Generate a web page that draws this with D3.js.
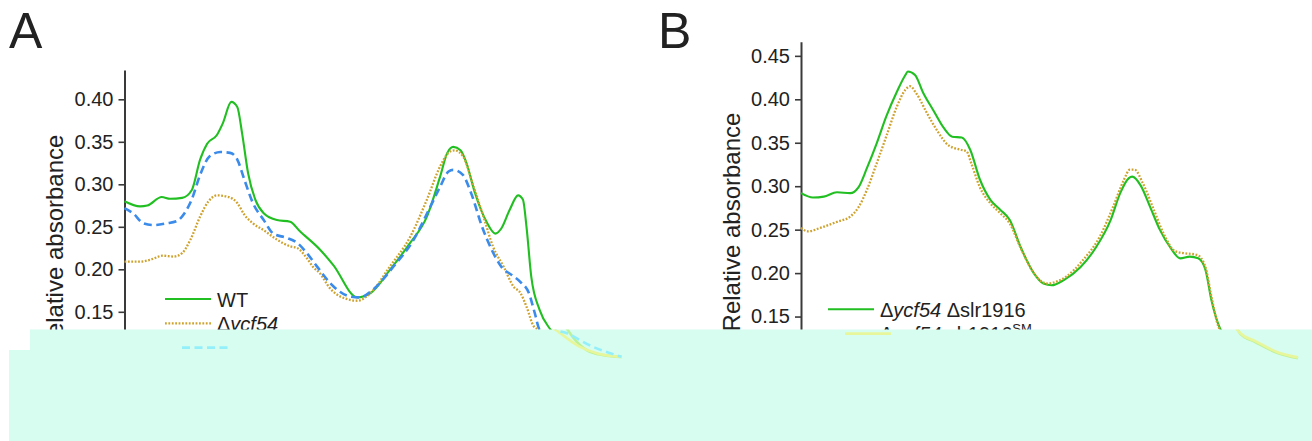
<!DOCTYPE html>
<html>
<head>
<meta charset="utf-8">
<script src="https://cdn.jsdelivr.net/npm/d3@7"></script>
<style>
  html, body { margin: 0; padding: 0; background: #fff; }
  svg { display: block; }
  text { font-family: "Liberation Sans", Arial, sans-serif; fill: #222; }
</style>
</head>
<body>
<svg id="chart" width="1312" height="441"></svg>
<script>
// ---- Panel A: absorbance spectra (wavelength in nm, relative absorbance)
const nmA_wt = [350,363,369,381,388,398,406,413,419,427,432,439,444,448,453,459,466,477,488,496,513,524,544,555,571,588,602,613,619,624,630,635,642,652,659,664,671,678,682,685,689,696,705,709,721,735,750];
const absA_wt = [0.280,0.274,0.275,0.285,0.283,0.284,0.293,0.329,0.348,0.358,0.372,0.397,0.391,0.360,0.313,0.282,0.266,0.258,0.256,0.245,0.223,0.205,0.167,0.172,0.199,0.231,0.262,0.309,0.337,0.344,0.340,0.325,0.290,0.255,0.242,0.248,0.270,0.287,0.282,0.250,0.191,0.152,0.129,0.121,0.105,0.099,0.097];

const nmA_ycf54 = [350,363,371,382,391,398,405,413,420,427,437,444,450,457,466,477,488,494,502,507,513,521,538,544,555,571,588,602,613,620,625,632,641,650,657,666,674,680,685,691,695,715,730,750];
const absA_ycf54 = [0.209,0.209,0.211,0.216,0.215,0.219,0.235,0.262,0.280,0.287,0.285,0.278,0.264,0.254,0.246,0.235,0.227,0.225,0.213,0.203,0.195,0.178,0.164,0.163,0.172,0.203,0.238,0.282,0.321,0.337,0.340,0.333,0.297,0.258,0.227,0.203,0.180,0.172,0.156,0.133,0.129,0.109,0.101,0.097];

const nmA_third = [350,357,366,374,385,394,400,406,413,421,430,438,444,450,457,466,474,485,494,502,510,524,538,546,557,574,591,605,613,620,624,632,639,648,656,664,673,680,687,692,696,704,726,750];
const absA_third = [0.272,0.266,0.254,0.252,0.254,0.257,0.266,0.282,0.311,0.333,0.338,0.337,0.329,0.305,0.278,0.258,0.242,0.237,0.231,0.219,0.204,0.180,0.168,0.167,0.176,0.203,0.235,0.274,0.297,0.315,0.317,0.311,0.289,0.250,0.223,0.203,0.193,0.185,0.172,0.148,0.129,0.125,0.109,0.097];

const ticksA = [0.15,0.20,0.25,0.30,0.35,0.40];

// ---- Panel B
const nmB_dd = [350,360,369,380,391,398,405,413,421,430,437,439,445,452,460,469,476,484,491,499,508,516,524,533,544,552,559,569,583,596,608,616,623,626,633,641,649,658,666,674,681,687,692,699,702,714,733,750];
const absB_dd = [0.292,0.287,0.288,0.293,0.292,0.299,0.321,0.349,0.380,0.409,0.428,0.432,0.428,0.407,0.388,0.367,0.357,0.356,0.342,0.308,0.284,0.273,0.261,0.230,0.200,0.188,0.186,0.192,0.207,0.230,0.261,0.292,0.309,0.311,0.301,0.276,0.250,0.229,0.217,0.219,0.217,0.204,0.169,0.137,0.130,0.121,0.108,0.102];

const nmB_sm = [350,356,366,380,391,398,405,413,421,430,437,441,446,455,463,473,483,488,492,499,508,516,524,533,544,555,560,571,585,599,610,619,624,628,635,644,652,662,669,680,687,692,698,702,714,733,750];
const absB_sm = [0.252,0.248,0.252,0.259,0.265,0.276,0.296,0.326,0.357,0.392,0.411,0.415,0.407,0.384,0.365,0.347,0.342,0.340,0.326,0.299,0.280,0.269,0.257,0.229,0.200,0.188,0.189,0.196,0.215,0.242,0.276,0.307,0.319,0.319,0.303,0.273,0.246,0.225,0.223,0.221,0.207,0.173,0.138,0.131,0.122,0.109,0.103];

const ticksB = [0.15,0.20,0.25,0.30,0.35,0.40,0.45];

const zip = (nm, v) => nm.map((d, i) => ({ nm: d, v: v[i] }));

const svg = d3.select("#chart");
svg.append("rect").attr("width", 1312).attr("height", 441).attr("fill", "#fff");

const GREEN = "#22bf22", GOLD = "#cfa22e", BLUE = "#3b8beb";
const styles = {
  solid:  { stroke: GREEN, width: 2.1, dash: null,      ghost: "#b9ef86" },
  dotted: { stroke: GOLD,  width: 2.3, dash: "1.8 1.6", ghost: "#ecf58c" },
  dashed: { stroke: BLUE,  width: 2.6, dash: "8 4.5",   ghost: "#88eefc" }
};

function panel(cfg) {
  const x = d3.scaleLinear().domain([350, 750]).range([cfg.axisX, cfg.axisX + 480]);
  const y = d3.scaleLinear().domain([0.05, cfg.yTop])
    .range([99.3 + 0.35 * cfg.pxPerUnit, 99.3 - (cfg.yTop - 0.40) * cfg.pxPerUnit]);

  const g = svg.append("g");

  // panel letter
  g.append("text").attr("x", cfg.letterX).attr("y", 48)
    .style("font-size", "50px").text(cfg.letter);

  // y axis
  const ax = g.append("g").attr("transform", `translate(${cfg.axisX},0)`)
    .call(d3.axisLeft(y).tickValues(cfg.ticks).tickFormat(d3.format(".2f"))
      .tickSize(6).tickPadding(5).tickSizeOuter(0));
  ax.select(".domain").attr("stroke", "#3a3a3a").attr("stroke-width", 2);
  ax.selectAll(".tick line").attr("stroke", "#3a3a3a").attr("stroke-width", 1.6);
  ax.selectAll(".tick text").attr("fill", "#222")
    .style("font-size", "20px").style("font-family", "'Liberation Sans', Arial, sans-serif");

  g.append("text")
    .attr("transform", `translate(${cfg.labelX},${cfg.labelY}) rotate(-90)`)
    .attr("text-anchor", "middle").style("font-size", "24px")
    .text("Relative absorbance");

  const line = d3.line().x(d => x(d.nm)).y(d => y(d.v)).curve(d3.curveMonotoneX);

  const drawSeries = (parent, ghost) => {
    cfg.series.forEach(s => {
      const st = styles[s.style];
      const p = parent.append("path").datum(zip(s.nm, s.v)).attr("d", line)
        .attr("fill", "none")
        .attr("stroke", ghost ? st.ghost : st.stroke)
        .attr("stroke-width", ghost ? 2.6 : st.width)
        .attr("stroke-linejoin", "round");
      if (st.dash && !(ghost && s.style === "dotted")) p.attr("stroke-dasharray", st.dash);
    });
    cfg.series.forEach((s, i) => {
      const st = styles[s.style];
      const ly = cfg.legY + i * 24.3;
      const p = parent.append("line")
        .attr("x1", cfg.legX).attr("x2", cfg.legX + 46).attr("y1", ly).attr("y2", ly)
        .attr("stroke", ghost ? st.ghost : st.stroke)
        .attr("stroke-width", ghost ? 2.6 : st.width);
      if (st.dash && !(ghost && s.style === "dotted")) p.attr("stroke-dasharray", st.dash);
    });
  };

  drawSeries(g, false);

  // legend labels
  cfg.series.forEach((s, i) => {
    if (!s.label) return;
    const t = g.append("text").attr("x", cfg.legX + 52)
      .attr("y", cfg.legY + i * 24.3 + 7.5).style("font-size", "20px");
    s.label.forEach(part => {
      const ts = t.append("tspan").text(part.t);
      if (part.i) ts.style("font-style", "italic");
      if (part.sup) ts.style("font-size", "13px").attr("dy", "-8");
    });
  });

  return { g, drawSeries };
}

const A = panel({
  letter: "A", letterX: 9, axisX: 124.5, yTop: 0.4345, pxPerUnit: 850,
  ticks: ticksA, labelX: 63, labelY: 244,
  legX: 165, legY: 299,
  series: [
    { nm: nmA_wt, v: absA_wt, style: "solid", label: [{ t: "WT" }] },
    { nm: nmA_ycf54, v: absA_ycf54, style: "dotted", label: [{ t: "\u0394" }, { t: "ycf54", i: true }] },
    { nm: nmA_third, v: absA_third, style: "dashed", label: null }
  ]
});

const B = panel({
  letter: "B", letterX: 658, axisX: 801, yTop: 0.4663, pxPerUnit: 869,
  ticks: ticksB, labelX: 740, labelY: 222,
  legX: 828, legY: 309.3,
  series: [
    { nm: nmB_dd, v: absB_dd, style: "solid",
      label: [{ t: "\u0394" }, { t: "ycf54", i: true }, { t: " \u0394slr1916" }] },
    { nm: nmB_sm, v: absB_sm, style: "dotted",
      label: [{ t: "\u0394" }, { t: "ycf54", i: true }, { t: " slr1916" }, { t: "SM", sup: true }] }
  ]
});

// ---- mint panel over the lower strip
const MINT = "#d6fdf0";
svg.append("rect").attr("x", 30).attr("y", 329.5).attr("width", 1282).attr("height", 112).attr("fill", MINT);
svg.append("rect").attr("x", 9).attr("y", 350).attr("width", 22).attr("height", 91).attr("fill", MINT);

// faint offset traces of the coloured lines showing inside the strip
svg.append("clipPath").attr("id", "stripClip")
  .append("rect").attr("x", 30).attr("y", 329.5).attr("width", 1282).attr("height", 112);
const ghost = svg.append("g").attr("clip-path", "url(#stripClip)")
  .append("g").attr("transform", "translate(17,0)").attr("opacity", 0.85);
A.drawSeries(ghost.append("g"), true);
B.drawSeries(ghost.append("g"), true);
</script>
</body>
</html>
